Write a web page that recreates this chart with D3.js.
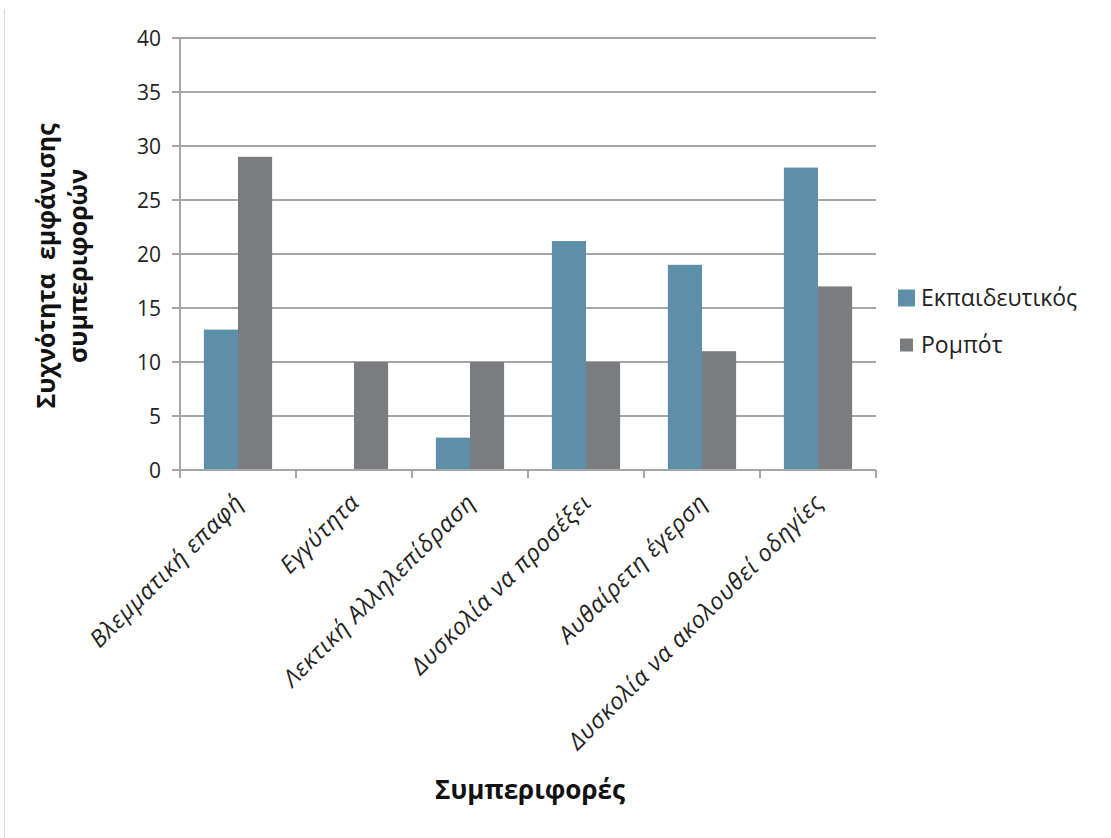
<!DOCTYPE html>
<html>
<head>
<meta charset="utf-8">
<script src="https://cdn.jsdelivr.net/npm/d3@7"></script>
<style>
  body { margin: 0; background: #fff; }
  svg { display: block; font-family: "Open Sans", sans-serif; }
  text { white-space: pre; }
</style>
</head>
<body>
<div id="chart-container"></div>
<script>
// chart values
const categories = [
    "Βλεμματική επαφή",
    "Εγγύτητα",
    "Λεκτική Αλληλεπίδραση",
    "Δυσκολία να προσέξει",
    "Αυθαίρετη έγερση",
    "Δυσκολία να ακολουθεί οδηγίες"
];
const seriesNames = ["Εκπαιδευτικός", "Ρομπότ"];
const teacherValues = [13, 0, 3, 21.2, 19, 28];
const robotValues = [29, 10, 10, 10, 11, 17];
const yTicks = [0, 5, 10, 15, 20, 25, 30, 35, 40];
const colors = ["#5E8FA8", "#7B7C7F"];

const width = 1111, height = 838;
const margin = { left: 180, right: 235, top: 38, bottom: 368 };

const svg = d3.select("#chart-container")
    .append("svg")
    .attr("width", width)
    .attr("height", height);

// faint outer border on the left
svg.append("line")
    .attr("x1", 4.5).attr("x2", 4.5)
    .attr("y1", 9).attr("y2", height)
    .attr("stroke", "#D9D9D9");

const x = d3.scaleBand()
    .domain(categories)
    .range([margin.left, width - margin.right])
    .paddingInner(0)
    .paddingOuter(0);

const y = d3.scaleLinear()
    .domain([0, 40])
    .range([height - margin.bottom, margin.top]);

const x1 = d3.scaleBand()
    .domain(seriesNames)
    .range([0, x.bandwidth()])
    .paddingInner(0)
    .paddingOuter(0.7);

// gridlines
svg.append("g")
    .selectAll("line")
    .data(yTicks)
    .join("line")
    .attr("x1", margin.left - 8)
    .attr("x2", width - margin.right)
    .attr("y1", d => y(d))
    .attr("y2", d => y(d))
    .attr("stroke", "#A6A6A6")
    .attr("stroke-width", 2);

// y tick labels
svg.append("g")
    .selectAll("text")
    .data(yTicks)
    .join("text")
    .attr("x", margin.left - 19)
    .attr("y", d => y(d))
    .attr("dy", "0.36em")
    .attr("text-anchor", "end")
    .attr("font-size", 21)
    .attr("fill", "#222")
    .text(d => d);

// bars
const rows = categories.map((c, i) => ({ cat: c, vals: [teacherValues[i], robotValues[i]] }));

svg.append("g")
    .selectAll("g")
    .data(rows)
    .join("g")
    .attr("transform", d => `translate(${x(d.cat)},0)`)
    .selectAll("rect")
    .data(d => d.vals.map((v, j) => ({ name: seriesNames[j], value: v, j })))
    .join("rect")
    .attr("x", d => x1(d.name))
    .attr("width", x1.bandwidth())
    .attr("y", d => y(d.value))
    .attr("height", d => y(0) - y(d.value))
    .attr("fill", d => colors[d.j]);

// axes lines
svg.append("line")
    .attr("x1", margin.left).attr("x2", margin.left)
    .attr("y1", y(40)).attr("y2", y(0) + 8)
    .attr("stroke", "#A6A6A6").attr("stroke-width", 2);

svg.append("line")
    .attr("x1", margin.left).attr("x2", width - margin.right)
    .attr("y1", y(0)).attr("y2", y(0))
    .attr("stroke", "#A6A6A6").attr("stroke-width", 2);

// x tick marks at category boundaries
const boundaries = categories.map(c => x(c)).concat([x.range()[1]]);
svg.append("g")
    .selectAll("line")
    .data(boundaries)
    .join("line")
    .attr("x1", d => d).attr("x2", d => d)
    .attr("y1", y(0)).attr("y2", y(0) + 8)
    .attr("stroke", "#A6A6A6").attr("stroke-width", 2);

// category labels rotated
svg.append("g")
    .selectAll("text")
    .data(categories)
    .join("text")
    .attr("transform", d => `translate(${x(d) + x.bandwidth() / 2 + 1},${y(0) + 28}) rotate(-45)`)
    .attr("text-anchor", "end")
    .attr("dy", "0.35em")
    .attr("font-size", 23.5)
    .attr("letter-spacing", 0.8)
    .attr("font-style", "italic")
    .attr("fill", "#222")
    .text(d => d);

// y axis title
const yTitle = svg.append("text")
    .attr("transform", "translate(61,266) rotate(-90)")
    .attr("text-anchor", "middle")
    .attr("font-size", 25)
    .attr("font-weight", "bold")
    .attr("fill", "#111");
yTitle.append("tspan").attr("x", 0).attr("dy", "-0.25em").text("Συχνότητα  εμφάνισης");
yTitle.append("tspan").attr("x", 0).attr("dy", "1.3em").text("συμπεριφορών");

// x axis title
svg.append("text")
    .attr("x", 530)
    .attr("y", 799)
    .attr("text-anchor", "middle")
    .attr("font-size", 26)
    .attr("font-weight", "bold")
    .attr("fill", "#111")
    .text("Συμπεριφορές");

// legend
const legend = svg.append("g")
    .selectAll("g")
    .data(seriesNames)
    .join("g")
    .attr("transform", (d, i) => `translate(898,${298 + i * 47})`);

legend.append("rect")
    .attr("x", (d, i) => i ? 2 : 0)
    .attr("y", (d, i) => i ? -6.5 : -8.5)
    .attr("width", (d, i) => i ? 13 : 17)
    .attr("height", (d, i) => i ? 13 : 17)
    .attr("fill", (d, i) => colors[i]);

legend.append("text")
    .attr("x", 23)
    .attr("dy", "0.35em")
    .attr("font-size", 23)
    .attr("fill", "#222")
    .text(d => d);
</script>
</body>
</html>
